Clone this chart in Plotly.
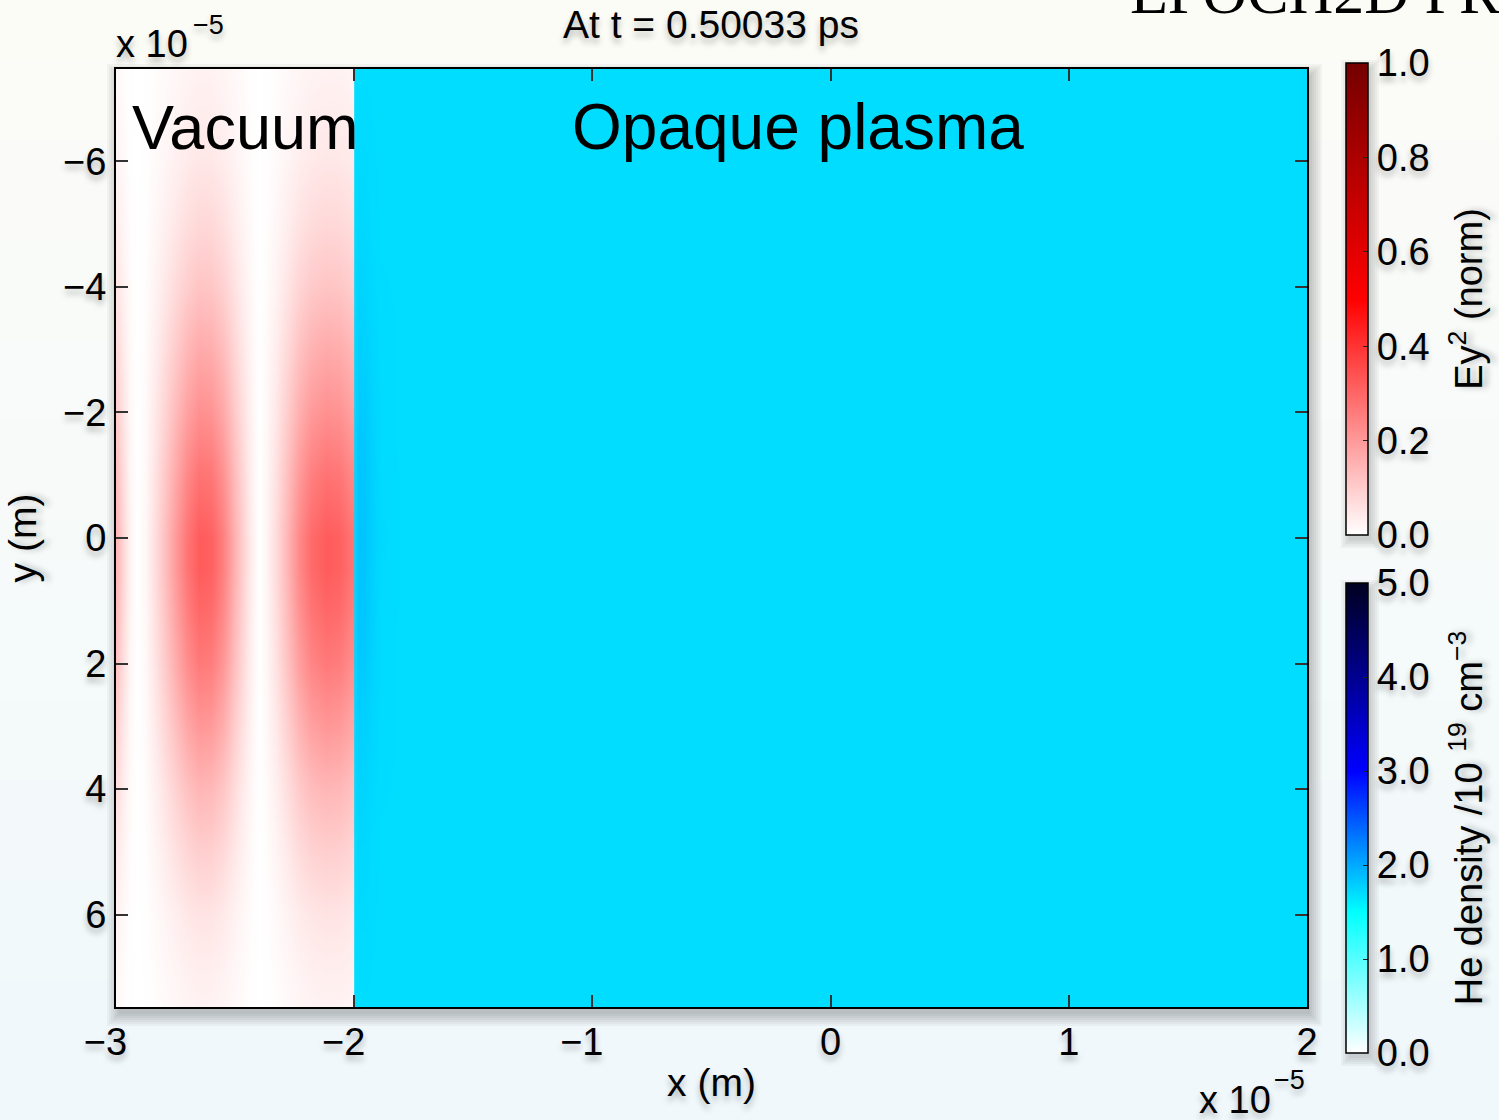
import plotly.graph_objects as go

# ---------------------------------------------------------------------------
# Data (x and y in units of 1e-5 m)
# ---------------------------------------------------------------------------
# Normalised Ey^2 along the beam axis on the vacuum side
ey2_x = [-3.00, -2.97, -2.94, -2.91, -2.88, -2.84, -2.80, -2.75, -2.70, -2.65,
         -2.60, -2.55, -2.50, -2.45, -2.42, -2.40, -2.37, -2.33, -2.28, -2.23,
         -2.18, -2.12, -2.06, -2.02, -2.00]
ey2_axis = [0.15, 0.08, 0.02, 0.0, 0.015, 0.06, 0.12, 0.20, 0.27, 0.32,
            0.31, 0.25, 0.15, 0.06, 0.02, 0.0, 0.02, 0.07, 0.15, 0.23,
            0.29, 0.32, 0.31, 0.28, 0.27]
# Transverse envelope of the pulse, relative to the on-axis value
ey2_y = [-7.5, -7.0, -6.0, -5.0, -4.0, -3.0, -2.0, -1.0, 0.0, 0.5,
         1.0, 2.0, 3.0, 4.0, 5.0, 6.0, 7.0, 7.5]
ey2_env = [0.08, 0.10, 0.15, 0.24, 0.36, 0.52, 0.68, 0.86, 1.0, 1.0,
           0.95, 0.82, 0.64, 0.45, 0.30, 0.17, 0.10, 0.08]

# He density (1e19 cm^-3) in the plasma slab, denser right at the front surface
ne_x = [-1.995, -1.985, -1.96, -1.93, -1.89, -1.80, 2.00]
ne_y = [-7.5, -5.0, -3.0, -1.5, 0.0, 1.5, 3.0, 5.0, 7.5]
ne = [
    [1.70, 1.70, 1.70, 1.70, 1.70, 1.70, 1.70],
    [1.70, 1.73, 1.73, 1.71, 1.70, 1.70, 1.70],
    [1.72, 1.78, 1.77, 1.74, 1.71, 1.70, 1.70],
    [1.74, 1.83, 1.82, 1.77, 1.71, 1.70, 1.70],
    [1.75, 1.85, 1.84, 1.78, 1.72, 1.70, 1.70],
    [1.74, 1.83, 1.82, 1.77, 1.71, 1.70, 1.70],
    [1.72, 1.78, 1.77, 1.74, 1.71, 1.70, 1.70],
    [1.70, 1.73, 1.73, 1.71, 1.70, 1.70, 1.70],
    [1.70, 1.70, 1.70, 1.70, 1.70, 1.70, 1.70],
]

x_ticks = [-3, -2, -1, 0, 1, 2]
x_ticktext = ["\u22123", "\u22122", "\u22121", "0", "1", "2"]
y_ticks = [-6, -4, -2, 0, 2, 4, 6]
y_ticktext = ["\u22126", "\u22124", "\u22122", "0", "2", "4", "6"]
ey2_cbar_ticks = [0.0, 0.2, 0.4, 0.6, 0.8, 1.0]
ey2_cbar_text = ["0.0", "0.2", "0.4", "0.6", "0.8", "1.0"]
ne_cbar_ticks = [0.0, 1.0, 2.0, 3.0, 4.0, 5.0]
ne_cbar_text = ["0.0", "1.0", "2.0", "3.0", "4.0", "5.0"]

# ---------------------------------------------------------------------------
# Layout geometry (pixels)
# ---------------------------------------------------------------------------
W, H = 1499, 1120
L, R, T, B = 116, 1307, 69, 1007
PW, PH = R - L, B - T


def px(x):
    return (x - L) / PW


def py(y):
    return (B - y) / PH


FONT = "Liberation Sans, Arial, Helvetica, sans-serif"
SHADOW = "0px 5px 6px rgba(0,0,0,0.28)"
NBSP = "\u00a0"

# pad negative tick labels on the right so the digit sits on the tick
x_ticktext = [t + NBSP * 2 if t.startswith("\u2212") else t for t in x_ticktext]
# a little extra room between colour-bar labels and colour-bar titles
ey2_cbar_text = [t + NBSP for t in ey2_cbar_text]
ne_cbar_text = [t + NBSP for t in ne_cbar_text]

ey2_z = [[e * v for v in ey2_axis] for e in ey2_env]

fig = go.Figure()
fig.add_trace(go.Heatmap(
    x=ey2_x, y=ey2_y, z=ey2_z, coloraxis="coloraxis",
    zsmooth="best", hoverinfo="skip",
))
fig.add_trace(go.Heatmap(
    x=ne_x, y=ne_y, z=ne, coloraxis="coloraxis2",
    zsmooth="best", hoverinfo="skip",
))

# page background: soft vertical gradient
shapes = []
top_rgb = (252, 252, 247)
bot_rgb = (240, 248, 252)
n_bands = 56
for i in range(n_bands):
    f = i / (n_bands - 1)
    c = tuple(round(a + (b - a) * f) for a, b in zip(top_rgb, bot_rgb))
    y0 = i * H / n_bands
    y1 = (i + 1) * H / n_bands + 1
    shapes.append(dict(
        type="rect", xref="paper", yref="paper", layer="below",
        x0=px(0), x1=px(W), y0=py(y0), y1=py(y1),
        fillcolor="rgb(%d,%d,%d)" % c, line=dict(width=0),
    ))


# soft drop shadows behind the plot frame and the two colour bars
def soft_shadow(x0, y0, x1, y1, dx=3, dy=7, steps=7, spread=2, alpha=0.035):
    out = []
    for k in range(steps):
        g = k * spread
        out.append(dict(
            type="rect", xref="paper", yref="paper", layer="below",
            x0=px(x0 + dx - g), x1=px(x1 + dx + g),
            y0=py(y0 + dy - g), y1=py(y1 + dy + g),
            fillcolor="rgba(0,0,0,%.3f)" % alpha, line=dict(width=0),
        ))
    return out


shapes += soft_shadow(L, T, R, B)
shapes += soft_shadow(1346, 63, 1368, 535, dx=3, dy=5, steps=5)
shapes += soft_shadow(1346, 583, 1368, 1053, dx=3, dy=5, steps=5)

cb_common = dict(
    thickness=22, thicknessmode="pixels", lenmode="pixels", len=472,
    x=px(1346), xanchor="left", xpad=0, ypad=0, yanchor="middle",
    outlinewidth=1.5, outlinecolor="black",
    ticks="inside", ticklen=5, tickcolor="#222", tickwidth=1,
    tickfont=dict(family=FONT, size=38, color="black", shadow=SHADOW),
)

fig.update_layout(
    width=W, height=H, autosize=False,
    margin=dict(l=L, r=W - R, t=T, b=H - B, pad=0, autoexpand=False),
    paper_bgcolor="rgb(246,250,250)",
    plot_bgcolor="rgba(0,0,0,0)",
    font=dict(family=FONT, size=38, color="black"),
    showlegend=False,
    shapes=shapes,
    coloraxis=dict(
        cmin=0, cmax=1,
        colorscale=[[0.0, "#ffffff"], [0.5, "#ff0000"], [1.0, "#740000"]],
        colorbar=dict(
            cb_common, y=py((63 + 535) / 2),
            tickvals=ey2_cbar_ticks, ticktext=ey2_cbar_text,
            title=dict(text="Ey<sup>2</sup> (norm)", side="right",
                       font=dict(family=FONT, size=38, color="black", shadow=SHADOW)),
        ),
    ),
    coloraxis2=dict(
        cmin=0, cmax=5,
        colorscale=[[0.0, "#ffffff"], [0.3, "#00ffff"], [0.6, "#0000ff"], [1.0, "#000020"]],
        colorbar=dict(
            cb_common, y=py((583 + 1053) / 2), len=470,
            tickvals=ne_cbar_ticks, ticktext=ne_cbar_text,
            title=dict(text="He density /10 <sup>19</sup> cm<sup>\u22123</sup>", side="right",
                       font=dict(family=FONT, size=38, color="black", shadow=SHADOW)),
        ),
    ),
    xaxis=dict(
        range=[-3, 2], tickvals=x_ticks, ticktext=x_ticktext,
        ticks="inside", ticklen=12, tickwidth=1.5, tickcolor="#333",
        showline=True, linewidth=2, linecolor="black", mirror="ticks",
        showgrid=False, zeroline=False,
        tickfont=dict(family=FONT, size=38, color="black", shadow=SHADOW),
        title=dict(text="x (m)", standoff=7,
                   font=dict(family=FONT, size=39, color="black", shadow=SHADOW)),
    ),
    yaxis=dict(
        range=[7.47, -7.47], tickvals=y_ticks, ticktext=y_ticktext,
        ticks="inside", ticklen=12, tickwidth=1.5, tickcolor="#333",
        showline=True, linewidth=2, linecolor="black", mirror="ticks",
        showgrid=False, zeroline=False,
        tickfont=dict(family=FONT, size=38, color="black", shadow=SHADOW),
        title=dict(text="y (m)", standoff=14,
                   font=dict(family=FONT, size=39, color="black", shadow=SHADOW)),
    ),
)


def note(text, x, y, xanchor, size, shadow=True, family=FONT, yanchor="middle"):
    f = dict(family=family, color="black", size=size)
    if shadow:
        f["shadow"] = SHADOW
    fig.add_annotation(text=text, xref="paper", yref="paper",
                       x=px(x), y=py(y), xanchor=xanchor, yanchor=yanchor,
                       showarrow=False, font=f)


note("At t = 0.50033 ps", 711, 25, "center", 39)
# axis multipliers
note("x 10", 114, 44, "left", 38)
note("\u22125", 191, 25, "left", 27)
note("x 10", 1273, 1100, "right", 38)
note("\u22125", 1272, 1080, "left", 27)
# region labels
note("Vacuum", 245, 127, "center", 63, shadow=False)
note("Opaque plasma", 798, 127, "center", 64, shadow=False)
note("EPOCH2D PR", 1128, 28, "left", 62, shadow=False,
     family="Liberation Serif, Times New Roman, serif", yanchor="bottom")

fig.write_html("out.html")
